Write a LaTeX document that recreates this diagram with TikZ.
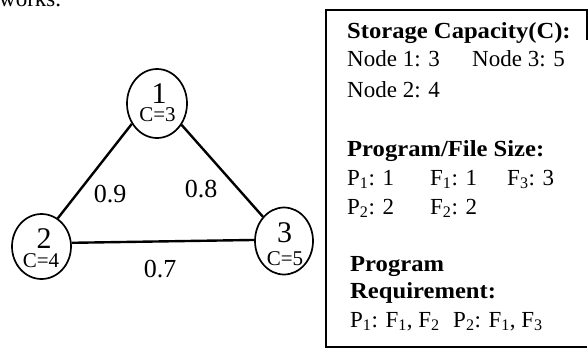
\documentclass[tikz,border=0pt]{standalone}
\usepackage{fontspec}
\setmainfont{Liberation Serif}
\newfontfamily\widefont{Liberation Serif}[FakeStretch=1.07]
\usetikzlibrary{shapes.geometric}
\begin{document}
\begin{tikzpicture}[x=1pt, y=-1pt,
  vertex/.style={draw, ellipse, line width=1.7pt, inner sep=0pt},
  num/.style={anchor=base, inner sep=0pt, font=\fontsize{30}{30}\selectfont},
  capty/.style={anchor=base, inner sep=0pt, font=\fontsize{21}{21}\selectfont},
  link/.style={line width=2.4pt},
  weight/.style={inner sep=0pt, font=\fontsize{26}{26}\selectfont},
  txt/.style={anchor=base west, inner sep=0pt, font=\fontsize{23}{23}\selectfont},
  head/.style={anchor=base west, inner sep=0pt, font=\widefont\fontsize{23}{23}\selectfont\bfseries}]
\useasboundingbox (0,0) rectangle (588,349);
\clip (0,0) rectangle (588,349);

% trailing word of the preceding sentence
\node[anchor=base west, inner sep=0pt, font=\fontsize{23}{23}\selectfont] (prev) at (-1,6) {works.};

% network nodes
\node[vertex, minimum width=60pt, minimum height=69pt] (n1) at (157,103.5) {};
\node[vertex, minimum width=59pt, minimum height=65pt] (n2) at (41.5,246.5) {};
\node[vertex, minimum width=58pt, minimum height=67pt] (n3) at (284,241) {};

\node[num]   (l1) at (159,103) {1};
\node[capty] (c1) at (157.5,121) {C=3};
\node[num]   (l2) at (44,248) {2};
\node[capty] (c2) at (41,267) {C=4};
\node[num]   (l3) at (284.5,242) {3};
\node[capty] (c3) at (285,265) {C=5};

% links with their weights
\draw[link] (n1.219) -- (n2.60);
\draw[link] (n1.-41) -- (n3.131);
\draw[link] (n2.7) -- (n3.178);

\node[weight] (w12) at (110,194) {0.9};
\node[weight] (w13) at (201,189) {0.8};
\node[weight] (w23) at (160,269) {0.7};

% parameter panel
\draw[line width=1.6pt] (587,40) -- (587,10) -- (326,10) -- (326,347) -- (587,347);

\node[head] (t1) at (347,38)  {Storage Capacity(C):};
\node[txt]  (t2) at (347,66)  {Node 1: 3};
\node[txt]  (t3) at (472,66)  {Node 3: 5};
\node[txt]  (t4) at (347,97)  {Node 2: 4};
\node[head] (t5) at (347,156) {Program/File Size:};
\node[txt]  (t6) at (347,185) {P\textsubscript{1}: 1};
\node[txt]  (t7) at (430,185) {F\textsubscript{1}: 1};
\node[txt]  (t8) at (507,185) {F\textsubscript{3}: 3};
\node[txt]  (t9) at (347,214) {P\textsubscript{2}: 2};
\node[txt]  (t10) at (430,214) {F\textsubscript{2}: 2};
\node[head] (t11) at (350,271) {Program};
\node[head] (t12) at (350,298) {Requirement:};
\node[txt]  (t13) at (350,327) {P\textsubscript{1}: F\textsubscript{1}, F\textsubscript{2}};
\node[txt]  (t14) at (453,327) {P\textsubscript{2}: F\textsubscript{1}, F\textsubscript{3}};
\end{tikzpicture}
\end{document}
